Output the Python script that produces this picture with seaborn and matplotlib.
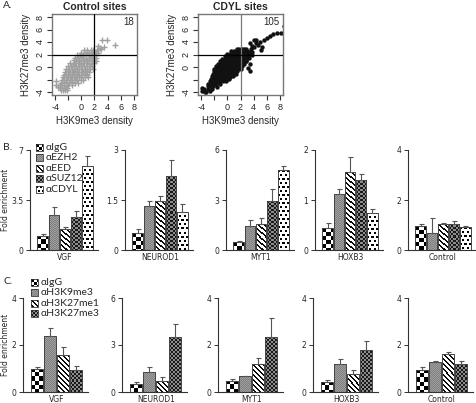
import numpy as np
import pandas as pd
import seaborn as sns
import matplotlib.pyplot as plt
from matplotlib.patches import Rectangle

sns.set_style("ticks")
plt.rcParams['font.family'] = ['DejaVu Sans']

# ---------------- panel A: H3K9me3 vs H3K27me3 density
ctrl_points = [
    (0.4, 2.7), (0.9, 2.75), (1.4, 2.7), (1.8, 2.65),
    (-0.1, 2.3), (0.4, 2.25), (0.8, 2.35), (1.2, 2.3), (1.6, 2.25), (2.0, 2.3),
    (-0.6, 1.9), (-0.2, 1.95), (0.3, 1.85), (0.7, 1.9), (1.1, 1.95), (1.5, 1.9), (1.9, 1.85),
    (-0.9, 1.5), (-0.5, 1.45), (-0.1, 1.55), (0.3, 1.5), (0.7, 1.45), (1.1, 1.5), (1.5, 1.55), (1.9, 1.5), (2.2, 1.45),
    (-1.2, 1.05), (-0.8, 1.1), (-0.4, 1.0), (0.0, 1.05), (0.4, 1.1), (0.8, 1.0), (1.2, 1.05), (1.6, 1.1), (2.0, 1.0),
    (-1.7, 0.6), (-1.3, 0.55), (-0.9, 0.65), (-0.5, 0.6), (-0.1, 0.55), (0.3, 0.6), (0.7, 0.65), (1.1, 0.6), (1.5, 0.55), (1.9, 0.6),
    (-2.0, 0.15), (-1.6, 0.2), (-1.2, 0.1), (-0.8, 0.15), (-0.4, 0.2), (0.0, 0.15), (0.4, 0.1), (0.8, 0.15), (1.2, 0.2), (1.6, 0.15),
    (-2.3, -0.3), (-1.9, -0.25), (-1.5, -0.35), (-1.1, -0.3), (-0.7, -0.25), (-0.3, -0.3), (0.1, -0.35), (0.5, -0.3), (0.9, -0.25), (1.3, -0.3), (1.7, -0.35),
    (-2.5, -0.75), (-2.1, -0.7), (-1.7, -0.8), (-1.3, -0.75), (-0.9, -0.7), (-0.5, -0.75), (-0.1, -0.8), (0.3, -0.75), (0.7, -0.7), (1.1, -0.75),
    (-2.7, -1.2), (-2.3, -1.15), (-1.9, -1.25), (-1.5, -1.2), (-1.1, -1.15), (-0.7, -1.2), (-0.3, -1.25), (0.1, -1.2), (0.5, -1.15), (0.9, -1.2),
    (-2.8, -1.6), (-2.4, -1.65), (-2.0, -1.55), (-1.6, -1.6), (-1.2, -1.65), (-0.8, -1.6), (-0.4, -1.55), (0.0, -1.6), (0.5, -1.65), (1.0, -1.6),
    (-3.0, -2.05), (-2.6, -2.0), (-2.2, -2.1), (-1.8, -2.05), (-1.4, -2.0), (-1.0, -2.1), (-0.6, -2.05), (-0.1, -2.0), (0.3, -2.1),
    (-3.1, -2.5), (-2.7, -2.45), (-2.3, -2.55), (-1.9, -2.5), (-1.5, -2.45), (-1.0, -2.5), (-0.5, -2.55),
    (-3.3, -2.95), (-2.9, -2.9), (-2.4, -3.0), (-2.0, -2.95), (-1.5, -2.9),
    (-3.2, -3.4), (-2.7, -3.35), (-2.2, -3.4),
    (-3.1, -3.75), (-2.8, -3.75), (-2.5, -3.75), (-2.2, -3.75),
    (2.6, 3.4), (3.1, 4.3), (3.9, 4.3), (5.2, 3.6), (2.4, 2.7), (3.0, 2.9),
    (2.8, 3.1), (3.4, 3.2), (2.2, 2.4), (2.5, 2.2), (-3.9, -2.2), (2.3, 1.0),
    (-3.5, -3.2), (-3.8, -2.9),
]
cdyl_points = [
    (1.4, 2.9), (1.8, 2.95), (2.2, 2.9), (2.6, 2.85), (2.9, 2.9),
    (0.6, 2.5), (1.0, 2.55), (1.4, 2.5), (1.8, 2.45), (2.2, 2.5), (2.6, 2.55), (3.0, 2.5), (3.3, 2.45),
    (0.0, 2.1), (0.4, 2.15), (0.8, 2.1), (1.2, 2.05), (1.6, 2.1), (2.0, 2.15), (2.4, 2.1), (2.8, 2.05), (3.2, 2.1), (3.5, 2.15),
    (-0.4, 1.7), (0.0, 1.75), (0.4, 1.7), (0.8, 1.65), (1.2, 1.7), (1.6, 1.75), (2.0, 1.7), (2.4, 1.65), (2.8, 1.7), (3.1, 1.75),
    (-0.8, 1.3), (-0.4, 1.35), (0.0, 1.3), (0.4, 1.25), (0.8, 1.3), (1.2, 1.35), (1.6, 1.3), (2.0, 1.25), (2.4, 1.3), (2.8, 1.35),
    (-1.2, 0.9), (-0.8, 0.95), (-0.4, 0.9), (0.0, 0.85), (0.4, 0.9), (0.8, 0.95), (1.2, 0.9), (1.6, 0.85), (2.0, 0.9), (2.4, 0.95), (2.9, 0.9),
    (-1.5, 0.5), (-1.1, 0.55), (-0.7, 0.5), (-0.3, 0.45), (0.1, 0.5), (0.5, 0.55), (0.9, 0.5), (1.3, 0.45), (1.7, 0.5), (2.1, 0.55), (2.5, 0.5),
    (-1.8, 0.1), (-1.4, 0.15), (-1.0, 0.1), (-0.6, 0.05), (-0.2, 0.1), (0.2, 0.15), (0.6, 0.1), (1.0, 0.05), (1.4, 0.1), (1.8, 0.15), (2.2, 0.1),
    (-2.0, -0.3), (-1.6, -0.25), (-1.2, -0.3), (-0.8, -0.35), (-0.4, -0.3), (0.0, -0.25), (0.4, -0.3), (0.8, -0.35), (1.2, -0.3), (1.6, -0.25), (2.0, -0.3),
    (-2.1, -0.7), (-1.7, -0.65), (-1.3, -0.7), (-0.9, -0.75), (-0.5, -0.7), (-0.1, -0.65), (0.3, -0.7), (0.7, -0.75), (1.1, -0.7), (1.5, -0.65),
    (-2.2, -1.1), (-1.8, -1.05), (-1.4, -1.1), (-1.0, -1.15), (-0.6, -1.1), (-0.2, -1.05), (0.2, -1.1), (0.6, -1.15), (1.0, -1.1), (1.3, -1.05),
    (-2.4, -1.5), (-2.0, -1.45), (-1.6, -1.5), (-1.2, -1.55), (-0.8, -1.5), (-0.4, -1.45), (0.0, -1.5), (0.4, -1.55), (0.8, -1.5),
    (-2.5, -1.9), (-2.1, -1.85), (-1.7, -1.9), (-1.3, -1.95), (-0.9, -1.9), (-0.5, -1.85), (-0.1, -1.9), (0.3, -1.95),
    (-2.7, -2.3), (-2.3, -2.25), (-1.9, -2.3), (-1.5, -2.35), (-1.1, -2.3), (-0.6, -2.25), (-0.2, -2.3),
    (-2.9, -2.7), (-2.5, -2.65), (-2.1, -2.7), (-1.7, -2.75), (-1.2, -2.7),
    (-3.0, -3.1), (-2.6, -3.05), (-2.2, -3.1), (-1.6, -3.15),
    (-3.5, -3.5), (-2.9, -3.55), (-2.3, -3.5),
    (-3.8, -3.9), (-3.2, -3.95), (-2.6, -3.9),
    (3.5, 3.8), (4.0, 4.3), (3.8, 3.3), (4.3, 3.9), (4.6, 3.5), (5.0, 4.0),
    (5.3, 3.2), (5.1, 2.7), (5.6, 4.3), (6.1, 4.7), (6.9, 5.3), (7.6, 5.4),
    (8.2, 5.4), (8.6, 6.6), (6.5, 5.0), (4.0, 3.2), (3.6, 2.9), (4.4, 4.4),
    (2.9, 0.9), (3.4, 0.5), (3.1, -0.2), (3.5, -0.7), (3.3, 1.4), (3.8, 2.4),
    (3.7, 1.9), (-3.9, -3.4), (-3.4, -4.0), (-2.1, -2.4),
]
ctrl_count = "18"
cdyl_count = "105"

# ---------------- panels B and C: fold enrichment
genes = ['VGF', 'NEUROD1', 'MYT1', 'HOXB3', 'Control']

b_antibodies = ['αIgG', 'αEZH2', 'αEED', 'αSUZ12', 'αCDYL']
b_means = [[1.0, 2.45, 1.47, 2.29, 5.9],
           [0.5, 1.32, 1.47, 2.23, 1.15],
           [0.46, 1.44, 1.58, 2.92, 4.78],
           [0.44, 1.13, 1.55, 1.41, 0.75],
           [0.96, 0.67, 1.03, 1.05, 0.91]]
b_errs = [[0.09, 0.58, 0.16, 0.44, 0.68],
          [0.12, 0.14, 0.16, 0.47, 0.23],
          [0.1, 0.38, 0.36, 0.74, 0.24],
          [0.1, 0.1, 0.3, 0.1, 0.07],
          [0.08, 0.6, 0.07, 0.11, 0.07]]
b_ymax = [7, 3, 6, 2, 4]

c_antibodies = ['αIgG', 'αH3K9me3', 'αH3K27me1', 'αH3K27me3']
c_means = [[0.98, 2.4, 1.57, 0.95],
           [0.51, 1.28, 0.68, 3.51],
           [0.47, 0.67, 1.19, 2.34],
           [0.43, 1.19, 0.77, 1.8],
           [0.95, 1.26, 1.62, 1.2]]
c_errs = [[0.08, 0.31, 0.34, 0.14],
          [0.11, 0.32, 0.28, 0.81],
          [0.08, 0.02, 0.27, 0.81],
          [0.09, 0.21, 0.15, 0.36],
          [0.11, 0.04, 0.08, 0.13]]
c_ymax = [4, 6, 4, 4, 4]

b_textures = ['checker', 'gray', 'stripe', 'dark', 'dots']
c_textures = ['checker', 'gray', 'stripe', 'dark']

W, H = 477, 403
fig = plt.figure(figsize=(W / 100, H / 100), dpi=100)


def px_axes(left, top, width, height):
    return fig.add_axes([left / W, 1 - (top + height) / H, width / W, height / H])


def texture(kind, h, w, cell=4):
    i, j = np.mgrid[0:h, 0:w]
    if kind == 'checker':
        return np.where((i // cell + j // cell) % 2 == 0, 0.0, 1.0)
    if kind == 'gray':
        return 0.5 + 0.12 * ((i + j) % 2)
    if kind == 'stripe':
        return np.where((j - i) % 5 < 2, 0.05, 1.0)
    if kind == 'dark':
        return np.where((i // 2 + j // 2) % 2 == 0, 0.1, 0.55)
    # dots
    m = (i % 4 < 2) & ((j + 2 * ((i // 4) % 2)) % 4 < 2)
    return np.where(m, 0.0, 1.0)


def fill_bar(ax, patch, kind, cell=4):
    bb = patch.get_window_extent()
    w = max(int(round(bb.width)), 1)
    h = max(int(round(bb.height)), 1)
    x0, y0 = patch.get_x(), patch.get_y()
    x1, y1 = x0 + patch.get_width(), y0 + patch.get_height()
    im = ax.imshow(texture(kind, h, w, cell), cmap='gray', vmin=0, vmax=1,
                   extent=(x0, x1, y0, y1), origin='upper', aspect='auto',
                   interpolation='nearest', zorder=1.5)
    im.set_clip_path(patch)
    patch.set_facecolor('none')
    patch.set_zorder(2)


def scatter_panel(left, pts, title, count, dots, vcolor):
    ax = px_axes(left, 14, 85, 81)
    d = pd.DataFrame(pts, columns=['k9', 'k27'])
    if dots:
        sns.scatterplot(data=d, x='k9', y='k27', color='#111', s=10,
                        linewidth=0, ax=ax)
    else:
        sns.scatterplot(data=d, x='k9', y='k27', marker='+', color='#a0a0a0',
                        s=20, linewidth=1.0, ax=ax)
    ax.axvline(2, color=vcolor, lw=0.9, zorder=3)
    ax.axhline(2, color='black', lw=0.9, zorder=3)
    ax.set_xlim(-4.48, 8.48)
    ax.set_ylim(-4.48, 8.48)
    ticks = [-4, -2, 0, 2, 4, 6, 8]
    labels = ['-4', '', '0', '2', '4', '6', '8']
    ax.set_xticks(ticks, labels)
    ax.set_yticks(ticks, labels, rotation=90, va='center')
    ax.tick_params(direction='out', length=3.5, width=0.8, labelsize=6.5,
                   pad=2, color='#333')
    for lab in ax.get_xticklabels() + ax.get_yticklabels():
        lab.set_family('Liberation Sans')
    ax.set_xlabel('H3K9me3 density', fontsize=7, labelpad=3, family='Liberation Sans')
    ax.set_ylabel('H3K27me3 density', fontsize=7, labelpad=3, family='Liberation Sans')
    ax.set_title(title, fontsize=7.5, fontweight='bold', pad=3, family='Liberation Sans')
    ax.text(0.96, 0.96, count, transform=ax.transAxes, ha='right', va='top',
            fontsize=7, family='Liberation Sans')
    for sp in ax.spines.values():
        sp.set_color('#777')
        sp.set_linewidth(1)


def bar_panel(left, top, width, height, gene, means, errs, antibodies, kinds,
              ymax, xlim, ylabel):
    ax = px_axes(left, top, width, height)
    d = pd.DataFrame({'gene': gene, 'antibody': antibodies, 'value': means})
    sns.barplot(data=d, x='gene', y='value', hue='antibody', hue_order=antibodies,
                palette=['white'] * len(antibodies), errorbar=None, legend=False,
                gap=0.08, edgecolor='#444', linewidth=0.7, ax=ax)
    ax.set_xlim(*xlim)
    ax.set_ylim(0, ymax)
    bars = [cont[0] for cont in list(ax.containers)]
    for k, bar in enumerate(bars):
        fill_bar(ax, bar, kinds[k])
        cx = bar.get_x() + bar.get_width() / 2
        ax.errorbar(cx, bar.get_height(), yerr=[[0], [errs[k]]], fmt='none',
                    ecolor='#555', elinewidth=0.8, capsize=1.8, capthick=0.8,
                    zorder=4)
    ax.set_xlim(*xlim)
    ax.set_ylim(0, ymax)
    ax.set_yticks([0, ymax / 2, ymax], ['%g' % v for v in (0, ymax / 2, ymax)])
    ax.set_xticks([0], [gene])
    ax.tick_params(axis='y', direction='out', length=3, width=0.7,
                   labelsize=5.5, pad=2, color='#333')
    ax.tick_params(axis='x', length=0, labelsize=5.5, pad=2.5)
    ax.set_xlabel('')
    if ylabel:
        ax.set_ylabel(ylabel, fontsize=5.5)
        ax.yaxis.set_label_coords((10 - left) / width, 0.5)
    else:
        ax.set_ylabel('')
    sns.despine(ax=ax)
    for side in ('left', 'bottom'):
        ax.spines[side].set_color('#333')
        ax.spines[side].set_linewidth(0.8)


def legend_panel(left, top, labels, kinds, step, size):
    h = step * len(labels) + 2
    lax = px_axes(left, top, 100, h)
    lax.set_xlim(0, 100)
    lax.set_ylim(0, h)
    lax.axis('off')
    for k, (lab, kind) in enumerate(zip(labels, kinds)):
        yc = h - 1 - step * (k + 0.5)
        r = Rectangle((0.5, yc - size / 2), size, size, facecolor='white',
                      edgecolor='#333', lw=0.6)
        lax.add_patch(r)
        fill_bar(lax, r, kind, cell=3)
        lax.text(size + 2.5, yc, lab, va='center', fontsize=7.5,
                 family=['Lato', 'DejaVu Sans'])
    lax.set_xlim(0, 100)
    lax.set_ylim(0, h)


# panel A
scatter_panel(52, ctrl_points, 'Control sites', ctrl_count, False, 'black')
scatter_panel(198, cdyl_points, 'CDYL sites', cdyl_count, True, '#777')

# panel B
b_left = [30, 125, 226, 315, 408]
for g in range(len(genes)):
    bar_panel(b_left[g], 150, 68, 100, genes[g], b_means[g], b_errs[g],
              b_antibodies, b_textures, b_ymax[g], (-0.5, 0.47),
              'Fold enrichment' if g == 0 else '')
legend_panel(36, 141, b_antibodies, b_textures, 10.5, 7)

# panel C
c_left = [23, 122, 218, 313, 408]
for g in range(len(genes)):
    bar_panel(c_left[g], 298, 65, 94, genes[g], c_means[g], c_errs[g],
              c_antibodies, c_textures, c_ymax[g], (-0.52, 0.48),
              'Fold enrichment' if g == 0 else '')
legend_panel(31, 276, c_antibodies, c_textures, 10.5, 7)

for txt, y in [('A.', 5), ('B.', 147), ('C.', 282)]:
    fig.text(3 / W, 1 - y / H, txt, va='center', fontsize=7.5,
             family=['Lato', 'DejaVu Sans'])

fig.savefig('out.png', dpi=100)
